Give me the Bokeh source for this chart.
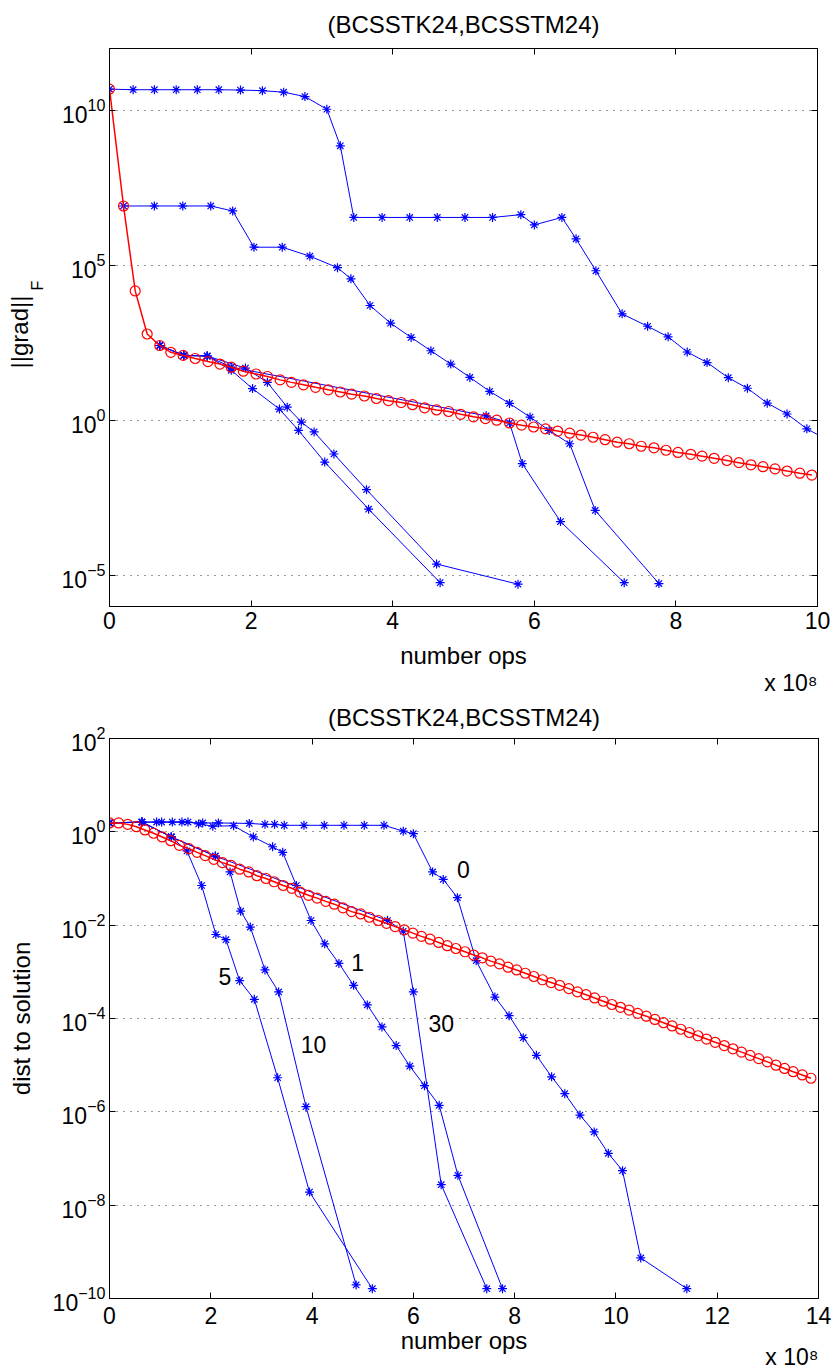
from bokeh.plotting import figure
from bokeh.layouts import column
from bokeh.models import (Range1d, FixedTicker, LinearAxis, LogAxis, Title, ColumnDataSource,
                          CustomJSTickFormatter)
from bokeh.core.properties import value
from bokeh.embed import file_html
from bokeh.resources import INLINE

FONT = "Liberation Sans"
BLUE = "#0000ff"
RED = "#ff0000"

# ---------------- data: top panel (||grad||_F vs number ops, x in 1e8) ----------------
top_red_ops = [0, 0.198, 0.363, 0.532, 0.71, 0.866, 1.04, 1.21, 1.39, 1.56,
               1.72, 1.89, 2.07, 2.23, 2.41, 2.57, 2.74, 2.91, 3.09, 3.26,
               3.42, 3.6, 3.77, 3.94, 4.12, 4.28, 4.45, 4.62, 4.79, 4.96,
               5.14, 5.31, 5.47, 5.65, 5.82, 5.99, 6.16, 6.33, 6.5, 6.66,
               6.83, 7.0, 7.17, 7.34, 7.51, 7.69, 7.86, 8.03, 8.21, 8.37,
               8.54, 8.72, 8.89, 9.06, 9.23, 9.4, 9.57, 9.75, 9.92]
top_red_log = [10.69, 6.92, 4.18, 2.79, 2.42, 2.2, 2.1, 2.0, 1.9, 1.82,
               1.72, 1.59, 1.50, 1.42, 1.31, 1.23, 1.15, 1.07, 0.99, 0.92,
               0.85, 0.79, 0.71, 0.64, 0.58, 0.51, 0.41, 0.34, 0.29, 0.2,
               0.12, 0.06, 0.01, -0.08, -0.15, -0.21, -0.27, -0.34, -0.41, -0.47,
               -0.54, -0.62, -0.7, -0.75, -0.83, -0.88, -0.96, -1.03, -1.09, -1.15,
               -1.22, -1.29, -1.36, -1.43, -1.49, -1.56, -1.63, -1.7, -1.76]

top_b0_ops = [0, 0.334, 0.634, 0.942, 1.24, 1.544, 1.85, 2.16, 2.46, 2.76,
              3.07, 3.26, 3.45, 3.85, 4.24, 4.63, 5.02, 5.41, 5.81, 6.0,
              6.39, 6.59, 6.87, 7.24, 7.6, 7.89, 8.16, 8.44, 8.74, 9.01,
              9.29, 9.57, 9.85, 10.13]
top_b0_log = [10.69, 10.67, 10.67, 10.67, 10.67, 10.67, 10.66, 10.64, 10.59, 10.45,
              10.04, 8.86, 6.55, 6.55, 6.55, 6.55, 6.55, 6.55, 6.64, 6.31,
              6.55, 5.86, 4.83, 3.44, 3.04, 2.70, 2.21, 1.87, 1.38, 1.04,
              0.56, 0.21, -0.27, -0.61]

top_b1_ops = [0.198, 0.634, 1.035, 1.43, 1.74, 2.04, 2.44, 2.83, 3.22, 3.41,
              3.68, 3.97, 4.26, 4.54, 4.82, 5.09, 5.37, 5.65, 5.94, 6.21,
              6.5, 6.86, 7.76]
top_b1_log = [6.92, 6.92, 6.92, 6.92, 6.76, 5.59, 5.59, 5.30, 4.93, 4.57,
              3.71, 3.14, 2.68, 2.25, 1.82, 1.39, 0.94, 0.55, 0.11, -0.32,
              -0.75, -2.90, -5.26]

top_b5_ops = [0.71, 1.05, 1.38, 1.72, 2.02, 2.40, 2.67, 3.04, 3.66, 4.67]
top_b5_log = [2.42, 2.10, 2.08, 1.62, 1.03, 0.37, -0.32, -1.34, -2.86, -5.23]

top_b10_ops = [0.71, 1.05, 1.38, 1.92, 2.23, 2.51, 2.71, 2.89, 3.17, 3.63, 4.62, 5.77]
top_b10_log = [2.42, 2.10, 2.08, 1.69, 1.23, 0.43, -0.05, -0.37, -1.08, -2.23, -4.63, -5.28]

top_b30_ops = [0.71, 1.05, 1.38, 1.72, 5.32, 5.65, 5.83, 6.37, 7.27]
top_b30_log = [2.42, 2.10, 2.08, 1.72, 0.15, -0.08, -1.39, -3.26, -5.23]

# ---------------- data: bottom panel (dist to solution vs number ops, x in 1e8) ----------------
bot_red_ops = [0, 0.18, 0.36, 0.53, 0.70, 0.87, 1.04, 1.21, 1.38, 1.57,
               1.73, 1.89, 2.06, 2.23, 2.40, 2.57, 2.75, 2.91, 3.09, 3.25,
               3.43, 3.60, 3.76, 3.93, 4.10, 4.27, 4.44, 4.61, 4.78, 4.96,
               5.13, 5.31, 5.47, 5.64, 5.82, 5.99, 6.16, 6.33, 6.50, 6.67,
               6.84, 7.02, 7.19, 7.36, 7.53, 7.70, 7.87, 8.04, 8.21, 8.38,
               8.55, 8.72, 8.89, 9.07, 9.24, 9.41, 9.58, 9.75, 9.92, 10.09,
               10.26, 10.43, 10.60, 10.77, 10.94, 11.11, 11.28, 11.45, 11.62, 11.79,
               11.96, 12.14, 12.31, 12.48, 12.65, 12.82, 12.99, 13.16, 13.33, 13.50,
               13.68, 13.85]
bot_red_log = [0.19, 0.19, 0.16, 0.11, 0.04, -0.03, -0.11, -0.19, -0.29, -0.36,
               -0.44, -0.51, -0.59, -0.66, -0.72, -0.80, -0.86, -0.94, -1.00, -1.07,
               -1.15, -1.21, -1.29, -1.36, -1.42, -1.49, -1.55, -1.63, -1.71, -1.76,
               -1.83, -1.90, -1.96, -2.03, -2.10, -2.17, -2.24, -2.30, -2.37, -2.44,
               -2.50, -2.57, -2.64, -2.70, -2.77, -2.83, -2.90, -2.96, -3.03, -3.10,
               -3.17, -3.23, -3.29, -3.36, -3.43, -3.49, -3.56, -3.63, -3.70, -3.76,
               -3.82, -3.89, -3.95, -4.02, -4.09, -4.16, -4.23, -4.30, -4.37, -4.44,
               -4.51, -4.58, -4.65, -4.72, -4.79, -4.86, -4.93, -5.00, -5.07, -5.14,
               -5.21, -5.28]

bot_b0_ops = [0, 0.64, 1.03, 1.43, 1.84, 2.15, 2.76, 3.07, 3.26, 3.45,
              3.84, 4.24, 4.63, 5.03, 5.42, 5.80, 6.0, 6.38, 6.59, 6.87,
              7.24, 7.61, 7.89, 8.17, 8.43, 8.73, 8.99, 9.29, 9.57, 9.85,
              10.13, 10.49, 11.40]
bot_b0_log = [0.19, 0.21, 0.21, 0.21, 0.19, 0.19, 0.18, 0.16, 0.16, 0.14,
              0.14, 0.14, 0.14, 0.14, 0.14, 0.015, -0.04, -0.86, -1.02, -1.41,
              -2.76, -3.54, -3.94, -4.41, -4.79, -5.25, -5.61, -6.07, -6.43, -6.89,
              -7.26, -9.13, -9.79]

bot_b1_ops = [0, 0.93, 1.24, 1.55, 1.76, 2.04, 2.45, 2.84, 3.22, 3.42,
              3.69, 3.98, 4.25, 4.53, 4.82, 5.09, 5.38, 5.66, 5.93, 6.22,
              6.51, 6.88, 7.76]
bot_b1_log = [0.19, 0.21, 0.21, 0.21, 0.17, 0.12, 0.13, -0.11, -0.32, -0.44,
              -1.15, -1.90, -2.40, -2.82, -3.29, -3.71, -4.18, -4.58, -5.02, -5.44,
              -5.86, -7.36, -9.79]

bot_b5_ops = [0, 0.64, 1.22, 1.53, 1.82, 2.10, 2.30, 2.57, 2.86, 3.32, 3.95, 5.19]
bot_b5_log = [0.19, 0.21, -0.11, -0.41, -1.15, -2.20, -2.31, -3.19, -3.59, -5.27, -7.72, -9.79]

bot_b10_ops = [0, 0.64, 1.22, 2.09, 2.38, 2.59, 2.78, 3.07, 3.34, 3.88, 4.87]
bot_b10_log = [0.19, 0.21, -0.11, -0.52, -0.86, -1.70, -2.04, -2.96, -3.43, -5.89, -9.71]

bot_b30_ops = [0, 0.64, 1.22, 2.09, 5.49, 5.80, 6.0, 6.55, 7.45]
bot_b30_log = [0.19, 0.21, -0.11, -0.52, -1.90, -2.13, -3.43, -7.56, -9.79]

curve_labels = ["0", "1", "5", "10", "30"]
curve_label_ops = [6.99, 4.90, 2.28, 4.03, 6.55]
curve_label_log = [-0.81, -2.79, -3.09, -4.56, -4.11]

top_xticks = [0, 2, 4, 6, 8, 10]
top_yticks = [1e-5, 1e0, 1e5, 1e10]
bot_xticks = [0, 2, 4, 6, 8, 10, 12, 14]
bot_yticks = [1e-10, 1e-8, 1e-6, 1e-4, 1e-2, 1e0, 1e2]
title_text = "(BCSSTK24,BCSSTM24)"
xlabel_text = "number ops"
scale_text = "x 10\u2078"


def p10(lst):
    return [10.0 ** v for v in lst]


def make_fig(xmax, ymin, ymax, xticks, yticks, fw, fh, bl, br, bt, bb, xstand):
    p = figure(frame_width=fw, frame_height=fh, title=None,
               x_range=Range1d(0, xmax), y_range=Range1d(ymin, ymax),
               y_axis_type="log", output_backend="svg", toolbar_location=None,
               min_border_left=bl, min_border_right=br,
               min_border_top=bt, min_border_bottom=bb,
               background_fill_color="white", border_fill_color="white")
    p.outline_line_color = "black"
    p.outline_line_width = 1
    xa = p.below[0]
    ya = p.left[0]
    xa.ticker = FixedTicker(ticks=xticks)
    ya.ticker = FixedTicker(ticks=yticks)
    for ax in (xa, ya):
        ax.major_tick_in = 6
        ax.major_tick_out = 0
        ax.minor_tick_line_color = None
        ax.axis_line_color = "black"
        ax.major_tick_line_color = "black"
        ax.major_label_text_font = FONT
        ax.major_label_text_font_size = "23px"
        ax.major_label_text_color = "black"
        ax.axis_label_text_font = FONT
        ax.axis_label_text_font_size = "24px"
        ax.axis_label_text_font_style = "normal"
        ax.axis_label_text_color = "black"
    xa.major_label_standoff = xstand
    ya.major_label_standoff = 4
    top_ax = LinearAxis(ticker=FixedTicker(ticks=xticks), major_tick_in=6, major_tick_out=0,
                        minor_tick_line_color=None,
                        formatter=CustomJSTickFormatter(code="return ''"),
                        major_label_text_font_size="1px",
                        major_label_standoff=0, axis_line_color="black")
    p.add_layout(top_ax, "above")
    right_ax = LogAxis(ticker=FixedTicker(ticks=yticks), major_tick_in=6, major_tick_out=0,
                       minor_tick_line_color=None,
                       formatter=CustomJSTickFormatter(code="return ''"),
                       major_label_text_font_size="1px",
                       major_label_standoff=0, axis_line_color="black")
    p.add_layout(right_ax, "right")
    p.xgrid.visible = False
    p.ygrid.ticker = FixedTicker(ticks=yticks)
    p.ygrid.grid_line_color = "#333333"
    p.ygrid.grid_line_dash = "1 6"
    p.ygrid.grid_line_width = 1
    return p, xa, ya


def title(p, text, side, size, align="center", valign="top", standoff=0, offset=0):
    p.add_layout(Title(text=text, align=align, vertical_align=valign, standoff=standoff,
                       offset=offset, text_font=FONT, text_font_size=size,
                       text_font_style="normal", text_color="black"), side)


def blue(p, xs, ys):
    p.line(xs, p10(ys), line_color=BLUE, line_width=1)
    p.scatter(xs, p10(ys), marker="asterisk", size=9, line_color=BLUE, line_width=1.2)


def red(p, xs, ys):
    p.line(xs, p10(ys), line_color=RED, line_width=1.5)
    p.scatter(xs, p10(ys), marker="circle", size=10, fill_color=None,
              line_color=RED, line_width=1.2)


# ---------------- top figure (canvas 0..694) ----------------
p1, xa1, ya1 = make_fig(10, 1e-6, 1e12, top_xticks, top_yticks, 708, 558, 109, 19, 48, 88, 5)
for xs, ys in [(top_b0_ops, top_b0_log), (top_b1_ops, top_b1_log), (top_b5_ops, top_b5_log),
               (top_b10_ops, top_b10_log), (top_b30_ops, top_b30_log)]:
    blue(p1, xs, ys)
red(p1, top_red_ops, top_red_log)
xa1.axis_label = xlabel_text
xa1.axis_label_standoff = 10
title(p1, title_text, "above", "24px", valign="top", standoff=17)
title(p1, scale_text, "below", "23px", align="right", valign="top", standoff=-3)
title(p1, "F", "left", "16px", align="left", valign="top", standoff=21, offset=316)
title(p1, "||grad||", "left", "24px", align="left", valign="bottom", standoff=-28, offset=238)

# ---------------- bottom figure (canvas 694..1369) ----------------
p2, xa2, ya2 = make_fig(14, 1e-10, 1e2, bot_xticks, bot_yticks, 709, 560, 108, 19, 42, 73, 8)
for xs, ys in [(bot_b0_ops, bot_b0_log), (bot_b1_ops, bot_b1_log), (bot_b5_ops, bot_b5_log),
               (bot_b10_ops, bot_b10_log), (bot_b30_ops, bot_b30_log)]:
    blue(p2, xs, ys)
red(p2, bot_red_ops, bot_red_log)
xa2.axis_label = xlabel_text
xa2.axis_label_standoff = 0
ya2.axis_label = "dist to solution"
ya2.axis_label_standoff = 15
title(p2, title_text, "above", "24px", valign="top", standoff=11)
title(p2, scale_text, "below", "23px", align="right", valign="top", standoff=-26)

src = ColumnDataSource(dict(x=curve_label_ops, y=p10(curve_label_log), t=curve_labels))
p2.text(x="x", y="y", text="t", source=src, text_font=value(FONT),
        text_font_size=value("23px"), text_align="center", text_baseline="middle",
        text_color="black")

layout = column(p1, p2)
open("out.html", "w").write(file_html(layout, INLINE))
